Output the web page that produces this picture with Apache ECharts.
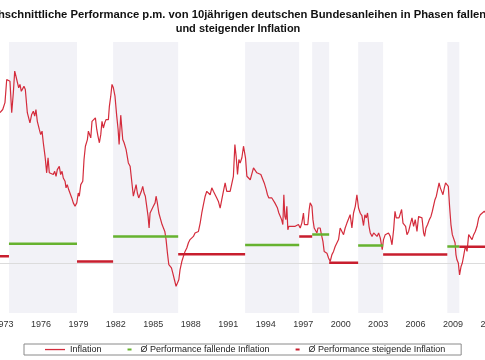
<!DOCTYPE html>
<html>
<head>
<meta charset="utf-8">
<script src="https://cdn.jsdelivr.net/npm/echarts@6/dist/echarts.min.js"></script>
<style>
html,body{margin:0;padding:0;background:#fff;width:485px;height:360px;overflow:hidden;position:relative}
#c{position:absolute;left:-34px;top:0;width:562px;height:360px}
</style>
</head>
<body>
<div id="c"></div>
<script>
// ---- data ----
const titleLine1 = 'Durchschnittliche Performance p.m. von 10jährigen deutschen Bundesanleihen in Phasen fallender';
const titleLine2 = 'und steigender Inflation';
const yearLabels = [1973, 1976, 1979, 1982, 1985, 1988, 1991, 1994, 1997, 2000, 2003, 2006, 2009, 2012];

// phases of falling inflation (shaded) with avg. performance p.m. (%)
const fallStart = [1973.44, 1981.78, 1992.35, 1997.72, 2001.40, 2008.54];
const fallEnd   = [1978.89, 1986.99, 1996.68, 1999.08, 2003.40, 2009.50];
const fallPerf  = [0.81, 1.11, 0.76, 1.19, 0.74, 0.70];

// phases of rising inflation with avg. performance p.m. (%)
const riseStart = [1972.50, 1978.89, 1986.99, 1996.68, 1999.08, 2003.40, 2009.50];
const riseEnd   = [1973.44, 1981.78, 1992.35, 1997.72, 2001.40, 2008.54, 2012.00];
const risePerf  = [0.30, 0.09, 0.38, 1.11, 0.04, 0.37, 0.69];

// inflation (% y/y)
const inflYear = [1972.72,1972.94,1973.12,1973.26,1973.39,1973.52,1973.66,1973.79,1973.90,1974.00,1974.11,1974.22,1974.32,1974.43,1974.54,1974.64,1974.75,1974.91,1975.02,1975.12,1975.26,1975.39,1975.50,1975.60,1975.71,1975.87,1975.98,1976.09,1976.19,1976.33,1976.46,1976.57,1976.67,1976.83,1976.99,1977.10,1977.21,1977.31,1977.47,1977.58,1977.69,1977.79,1977.93,1978.01,1978.11,1978.22,1978.33,1978.47,1978.59,1978.73,1978.87,1978.99,1979.07,1979.19,1979.35,1979.45,1979.56,1979.72,1979.80,1979.93,1979.99,1980.09,1980.25,1980.36,1980.47,1980.57,1980.68,1980.79,1980.89,1981.00,1981.11,1981.21,1981.32,1981.40,1981.48,1981.59,1981.69,1981.80,1981.93,1982.07,1982.18,1982.26,1982.39,1982.55,1982.66,1982.82,1982.92,1983.00,1983.14,1983.27,1983.40,1983.54,1983.62,1983.72,1983.83,1983.94,1984.04,1984.15,1984.26,1984.36,1984.47,1984.58,1984.66,1984.74,1984.88,1985.00,1985.14,1985.22,1985.32,1985.44,1985.60,1985.70,1985.81,1985.92,1986.02,1986.13,1986.24,1986.34,1986.45,1986.56,1986.69,1986.82,1986.93,1987.04,1987.14,1987.28,1987.41,1987.54,1987.68,1987.81,1987.94,1988.08,1988.21,1988.34,1988.48,1988.61,1988.75,1988.88,1989.01,1989.15,1989.28,1989.41,1989.55,1989.68,1989.81,1989.95,1990.08,1990.21,1990.35,1990.48,1990.61,1990.75,1990.88,1991.01,1991.15,1991.29,1991.41,1991.53,1991.63,1991.74,1991.85,1991.95,1992.09,1992.22,1992.30,1992.38,1992.49,1992.62,1992.76,1992.89,1993.02,1993.16,1993.29,1993.42,1993.61,1993.77,1993.88,1994.04,1994.14,1994.25,1994.36,1994.49,1994.62,1994.73,1994.84,1994.94,1995.05,1995.16,1995.27,1995.37,1995.45,1995.53,1995.61,1995.69,1995.77,1995.85,1995.96,1996.09,1996.22,1996.36,1996.49,1996.62,1996.76,1996.89,1997.02,1997.10,1997.24,1997.37,1997.48,1997.56,1997.70,1997.78,1997.88,1997.99,1998.10,1998.18,1998.26,1998.36,1998.46,1998.58,1998.68,1998.79,1998.90,1999.03,1999.16,1999.30,1999.43,1999.56,1999.70,1999.83,1999.96,2000.10,2000.23,2000.36,2000.50,2000.63,2000.76,2000.90,2001.03,2001.17,2001.30,2001.43,2001.57,2001.70,2001.83,2001.94,2002.05,2002.15,2002.27,2002.37,2002.51,2002.64,2002.77,2002.91,2003.04,2003.17,2003.25,2003.33,2003.43,2003.57,2003.71,2003.83,2003.97,2004.11,2004.24,2004.35,2004.45,2004.56,2004.67,2004.77,2004.88,2004.99,2005.09,2005.20,2005.31,2005.44,2005.57,2005.71,2005.84,2005.97,2006.11,2006.24,2006.37,2006.51,2006.64,2006.72,2006.83,2006.96,2007.10,2007.23,2007.34,2007.44,2007.55,2007.66,2007.76,2007.88,2007.98,2008.08,2008.19,2008.30,2008.40,2008.51,2008.62,2008.72,2008.83,2008.94,2009.04,2009.16,2009.23,2009.31,2009.42,2009.52,2009.64,2009.74,2009.84,2009.98,2010.12,2010.25,2010.38,2010.52,2010.65,2010.78,2010.92,2011.05,2011.18,2011.31,2011.50,2011.65];
const inflValue = [6.13,6.26,6.54,7.48,7.55,7.41,6.13,6.94,7.82,7.61,7.68,7.14,7.28,7.00,7.00,7.20,7.07,6.13,6.19,5.72,6.06,6.19,5.99,6.26,5.78,5.45,5.24,5.38,4.91,4.36,3.69,4.30,3.69,3.62,3.62,3.75,3.55,3.82,3.95,3.62,3.75,3.48,3.35,3.08,3.21,3.01,2.94,2.67,2.47,2.33,2.47,2.87,2.74,3.21,3.35,4.23,4.77,5.04,5.38,5.45,5.11,5.78,5.85,5.92,5.45,5.17,4.91,5.24,5.78,5.51,5.72,5.85,5.78,5.85,6.39,6.80,7.28,7.14,6.80,5.99,5.45,4.84,6.03,5.04,4.91,4.63,4.57,4.09,3.96,3.89,2.74,2.74,3.21,2.87,2.67,2.74,2.94,3.14,2.87,2.74,2.33,1.92,1.45,2.06,2.13,2.33,2.47,2.74,2.47,2.06,2.06,1.59,1.52,1.31,0.98,0.43,-0.04,-0.11,-0.17,-0.38,-0.65,-0.92,-0.92,-0.65,-0.24,0.09,0.30,0.50,0.64,0.85,0.98,1.05,1.11,1.25,1.25,1.31,1.65,2.06,2.40,2.74,2.94,2.87,2.80,3.08,2.94,3.01,2.67,2.53,2.26,2.60,2.94,3.28,2.94,2.87,2.94,2.94,3.55,4.84,4.36,3.62,4.23,4.09,4.30,4.77,4.70,4.30,3.55,3.48,3.41,3.48,3.89,3.96,3.69,3.62,3.62,3.55,3.28,3.01,2.80,2.67,2.60,2.67,2.60,2.47,2.53,2.26,2.06,1.99,1.79,1.59,2.80,1.92,1.79,2.33,1.38,1.52,1.45,1.52,1.45,1.52,1.45,1.59,1.45,1.65,2.06,1.59,1.52,1.59,2.20,2.47,2.33,1.79,1.45,1.38,1.25,1.45,1.38,1.45,1.18,0.91,0.50,0.50,0.43,0.23,0.09,0.37,0.50,0.70,0.70,0.98,1.45,1.52,1.18,1.45,1.65,1.65,1.99,1.45,2.06,2.33,2.80,2.26,2.05,1.95,1.55,1.99,1.86,2.06,1.52,1.25,1.11,1.25,1.18,1.11,1.25,1.05,0.98,0.57,0.98,1.18,1.11,1.25,1.11,0.77,1.38,2.13,1.86,1.86,1.86,1.92,2.20,1.65,1.65,1.52,1.18,1.31,1.59,1.86,1.52,1.79,1.31,1.92,1.86,1.86,1.25,1.11,1.45,1.59,1.79,1.92,2.13,2.06,2.60,2.74,2.80,3.28,3.08,3.14,2.80,3.08,3.28,3.35,3.14,2.33,1.59,1.18,1.11,0.85,0.37,0.16,0.03,-0.45,-0.11,0.03,0.30,0.70,0.50,1.18,1.25,0.98,1.18,1.31,1.52,1.86,1.99,2.06,2.13,2.06];

const names = ['Inflation', 'Ø Performance fallende Inflation', 'Ø Performance steigende Inflation'];

// ---- build ----
const FONT = '"Liberation Sans", Arial, sans-serif';
function segments(starts, ends, vals) {
  const out = [];
  for (let i = 0; i < starts.length; i++) {
    out.push([starts[i], vals[i]], [ends[i], vals[i]], [ends[i], '-']);
  }
  return out;
}
const inflData = inflYear.map((y, i) => [y, inflValue[i]]);
const bands = fallStart.map((s, i) => [{ xAxis: s }, { xAxis: fallEnd[i] }]);

const chart = echarts.init(document.getElementById('c'), null, { renderer: 'canvas' });
chart.setOption({
  animation: false,
  backgroundColor: '#ffffff',
  title: {
    text: titleLine1,
    subtext: titleLine2,
    left: 272, top: 8, textAlign: 'center', padding: 0, itemGap: 0,
    textStyle: { fontSize: 11.25, fontWeight: 'bold', color: '#111', fontFamily: FONT, lineHeight: 14 },
    subtextStyle: { fontSize: 11, fontWeight: 'bold', color: '#111', fontFamily: FONT, lineHeight: 13 }
  },
  legend: {
    left: 58, top: 344,
    padding: [1, 16, 1, 21],
    itemGap: 14, itemWidth: 20, itemHeight: 8,
    borderColor: '#8a8a8a', borderWidth: 1,
    selectedMode: false,
    itemStyle: { borderWidth: 0 },
    textStyle: { fontSize: 9, color: '#222', fontFamily: FONT },
    data: [
      { name: names[0], icon: 'path://M0,0M20,8M0,3.4h20v1.3h-20z' },
      { name: names[1], icon: 'path://M0,0M20,8M12,3h4v2h-4z' },
      { name: names[2], icon: 'path://M0,0M20,8M12,3h4v2h-4z' }
    ]
  },
  grid: { left: 0, right: 0, top: 42, bottom: 47 },
  xAxis: {
    type: 'value', min: 1970, max: 2015, interval: 3,
    axisLine: { show: false }, axisTick: { show: false }, splitLine: { show: false },
    axisLabel: {
      customValues: yearLabels,
      formatter: v => String(v), fontSize: 9, color: '#333', fontFamily: FONT, margin: 7
    }
  },
  yAxis: { type: 'value', min: -2, max: 9, show: false, splitLine: { show: false } },
  series: [
    {
      name: 'phasen', type: 'line', data: [], silent: true, z: 1,
      markArea: { z: 1, silent: true, itemStyle: { color: '#f2f2f7' }, data: bands },
      markLine: { z: 1.5, silent: true, symbol: ['none', 'none'], label: { show: false },
        lineStyle: { color: '#dcdcdc', width: 1, type: 'solid' }, data: [{ yAxis: 0 }] }
    },
    {
      name: names[0], type: 'line', data: inflData, symbol: 'none', z: 2,
      lineStyle: { color: '#d42c3c', width: 1.2 }, itemStyle: { color: '#d42c3c' }
    },
    {
      name: names[1], type: 'line', data: segments(fallStart, fallEnd, fallPerf), symbol: 'none', z: 3,
      connectNulls: false, lineStyle: { color: '#66b22f', width: 2.5 }, itemStyle: { color: '#66b22f' }
    },
    {
      name: names[2], type: 'line', data: segments(riseStart, riseEnd, risePerf), symbol: 'none', z: 3,
      connectNulls: false, lineStyle: { color: '#c81e2e', width: 2.5 }, itemStyle: { color: '#c81e2e' }
    }
  ]
});
</script>
</body>
</html>
